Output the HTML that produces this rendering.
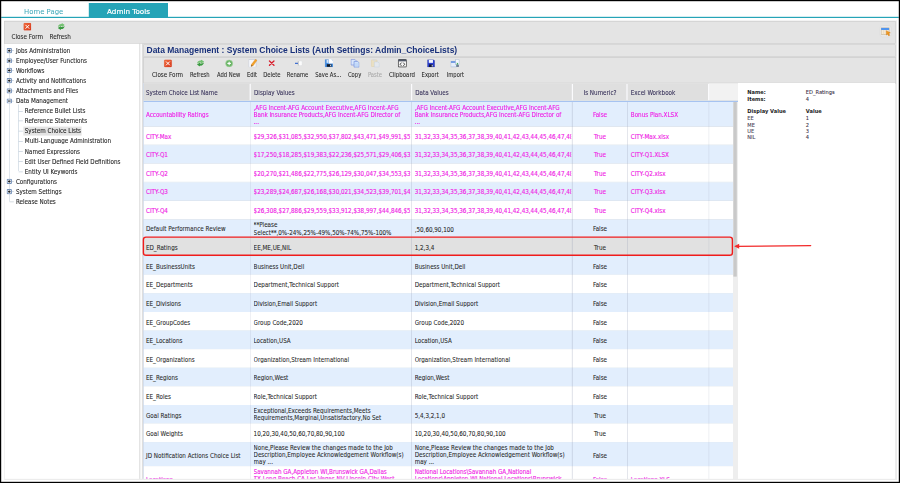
<!DOCTYPE html>
<html><head><meta charset="utf-8"><title>Admin Tools - System Choice Lists</title>
<style>
html,body{margin:0;padding:0;background:#fff;}
body{width:900px;height:483px;overflow:hidden;position:relative;}
#w{position:absolute;left:0;top:0;width:1500px;height:805px;transform:scale(0.6);transform-origin:0 0;overflow:hidden;}
#w div,#w svg{position:absolute;}
.t{font-family:"DejaVu Sans Condensed","Liberation Sans",sans-serif;font-size:10.4px;line-height:14px;white-space:nowrap;color:#2a2a2a;-webkit-text-stroke:0.12px currentColor;}
.v{font-family:"DejaVu Sans","Liberation Sans",sans-serif;line-height:14px;white-space:nowrap;}
.a{font-family:"Liberation Sans",sans-serif;line-height:14px;white-space:nowrap;}
.c{overflow:hidden;}
.m{-webkit-text-stroke:0.22px currentColor;}
</style></head><body><div id="w">
<div style="left:1.67px;top:28.33px;width:1496.0px;height:1.92px;background:#25a4b7;"></div>
<div style="left:148.33px;top:5.0px;width:131.67px;height:24.17px;background:#25a4b7;"></div>
<div class="v" style="top:11.83px;font-size:12px;left:114.17px;width:200px;text-align:center;color:#fff;-webkit-text-stroke:0.35px #fff;">Admin Tools</div>
<div class="v" style="top:11.83px;font-size:11.5px;left:40.0px;color:#3ba7b9;">Home Page</div>
<div style="left:6.67px;top:34.17px;width:1488.33px;height:765.83px;background:#ececec;"></div>
<div style="left:7.0px;top:34.5px;width:1486.33px;height:38.17px;background:#e4e4e4;border:1px solid #cbcbcb;box-sizing:border-box;"></div>
<svg class="a" style="left:39.0px;top:38.17px" width="13.33" height="13.33" viewBox="0 0 16 16"><defs><linearGradient id="g1" x1="0" y1="0" x2="1" y2="1"><stop offset="0" stop-color="#f2703f"/><stop offset="1" stop-color="#d6341a"/></linearGradient></defs><rect x="0.5" y="0.5" width="15" height="15" rx="2.2" fill="url(#g1)" stroke="#d8492c" stroke-width="0.8"/><path d="M4.800 4.800l6.400 6.400M11.200 4.800l-6.400 6.400" stroke="#fff" stroke-width="2" stroke-linecap="round"/></svg>
<svg class="a" style="left:95.5px;top:38.0px" width="12.33" height="12.33" viewBox="0 0 16 16"><path d="M0.500 9.200C1.200 4 5.500 1.800 9 2.600L9 0.200L15.600 4.800L9 9.200L9 7C6 6.400 3 7.200 0.500 9.200z" fill="#74c272"/><path d="M15.500 6.800C14.800 12 10.500 14.200 7 13.400L7 15.800L0.400 11.200L7 6.800L7 9C10 9.600 13 8.800 15.500 6.800z" fill="#3a9a40"/></svg>
<div class="t" style="top:54.0px;font-size:10.5px;left:19.17px;color:#2a2a2a;">Close Form</div>
<div class="t" style="top:54.0px;font-size:10.5px;left:82.5px;color:#2a2a2a;">Refresh</div>
<div style="left:1465.67px;top:41.83px;width:20.5px;height:20.5px;background:#e9e9e9;border-radius:5px;border:1px solid #dcdcdc;box-sizing:border-box;"></div>
<svg class="a" style="left:1467.67px;top:44.67px" width="17.42" height="16.42" viewBox="0 0 17 16"><rect x="0.5" y="1.5" width="13" height="11" fill="#f6ead6" stroke="#c4b498"/><rect x="0.5" y="1.5" width="13" height="3.4" fill="#4f94ee"/><path d="M4.500 5v7.500M8.500 5v7.500" stroke="#e2d2b6" stroke-width="0.8"/><path d="M9 6l6.5 3.4-2.6 1 1.6 3.2-1.7.9-1.6-3.2-2 1.8z" fill="#f39a1f" stroke="#c9720d" stroke-width=".6"/></svg>
<div style="left:7.67px;top:73.0px;width:224.0px;height:725.33px;background:#fff;"></div>
<div style="left:231.67px;top:73.0px;width:2.0px;height:725.33px;background:#e1e1e1;"></div>
<div style="left:233.67px;top:73.0px;width:3.0px;height:725.33px;background:#fbfbfb;"></div>
<div style="left:236.67px;top:73.0px;width:2.5px;height:725.33px;background:#dadada;"></div>
<div style="left:15.17px;top:84.0px;width:0.83px;height:252.0px;background:#ccd6e0;"></div>
<div style="left:30.33px;top:174.17px;width:0.83px;height:111.33px;background:#c4d0dc;"></div>
<div style="left:15.5px;top:335.67px;width:7.0px;height:0.83px;background:#b8c4cc;"></div>
<div style="left:19.33px;top:83.83px;width:3.67px;height:0.83px;background:#b5c3d2;"></div>
<svg class="a" style="left:11.0px;top:79.75px" width="8.83" height="8.83" viewBox="0 0 9 9"><rect x="0.9" y="0.9" width="7.200" height="7.200" rx="0.8" fill="#f0f4fa" stroke="#7591b8" stroke-width="1.8"/><path d="M2.400 4.500h4.200" stroke="#1a1a1a" stroke-width="1.600"/><path d="M4.5 2.4v4.200" stroke="#1a1a1a" stroke-width="1.6"/></svg>
<div class="t" style="top:77.0px;font-size:10.4px;left:26.5px;color:#2a2a2a;-webkit-text-stroke:0.18px currentColor;">Jobs Administration</div>
<div style="left:19.33px;top:100.67px;width:3.67px;height:0.83px;background:#b5c3d2;"></div>
<svg class="a" style="left:11.0px;top:96.58px" width="8.83" height="8.83" viewBox="0 0 9 9"><rect x="0.9" y="0.9" width="7.200" height="7.200" rx="0.8" fill="#f0f4fa" stroke="#7591b8" stroke-width="1.8"/><path d="M2.400 4.500h4.200" stroke="#1a1a1a" stroke-width="1.600"/><path d="M4.5 2.4v4.200" stroke="#1a1a1a" stroke-width="1.6"/></svg>
<div class="t" style="top:93.83px;font-size:10.4px;left:26.5px;color:#2a2a2a;-webkit-text-stroke:0.18px currentColor;">Employee/User Functions</div>
<div style="left:19.33px;top:117.33px;width:3.67px;height:0.83px;background:#b5c3d2;"></div>
<svg class="a" style="left:11.0px;top:113.25px" width="8.83" height="8.83" viewBox="0 0 9 9"><rect x="0.9" y="0.9" width="7.200" height="7.200" rx="0.8" fill="#f0f4fa" stroke="#7591b8" stroke-width="1.8"/><path d="M2.400 4.500h4.200" stroke="#1a1a1a" stroke-width="1.600"/><path d="M4.5 2.4v4.200" stroke="#1a1a1a" stroke-width="1.6"/></svg>
<div class="t" style="top:110.5px;font-size:10.4px;left:26.5px;color:#2a2a2a;-webkit-text-stroke:0.18px currentColor;">Workflows</div>
<div style="left:19.33px;top:134.17px;width:3.67px;height:0.83px;background:#b5c3d2;"></div>
<svg class="a" style="left:11.0px;top:130.08px" width="8.83" height="8.83" viewBox="0 0 9 9"><rect x="0.9" y="0.9" width="7.200" height="7.200" rx="0.8" fill="#f0f4fa" stroke="#7591b8" stroke-width="1.8"/><path d="M2.400 4.500h4.200" stroke="#1a1a1a" stroke-width="1.600"/><path d="M4.5 2.4v4.200" stroke="#1a1a1a" stroke-width="1.6"/></svg>
<div class="t" style="top:127.33px;font-size:10.4px;left:26.5px;color:#2a2a2a;-webkit-text-stroke:0.18px currentColor;">Activity and Notifications</div>
<div style="left:19.33px;top:150.83px;width:3.67px;height:0.83px;background:#b5c3d2;"></div>
<svg class="a" style="left:11.0px;top:146.75px" width="8.83" height="8.83" viewBox="0 0 9 9"><rect x="0.9" y="0.9" width="7.200" height="7.200" rx="0.8" fill="#f0f4fa" stroke="#7591b8" stroke-width="1.8"/><path d="M2.400 4.500h4.200" stroke="#1a1a1a" stroke-width="1.600"/><path d="M4.5 2.4v4.200" stroke="#1a1a1a" stroke-width="1.6"/></svg>
<div class="t" style="top:144.0px;font-size:10.4px;left:26.5px;color:#2a2a2a;-webkit-text-stroke:0.18px currentColor;">Attachments and Files</div>
<div style="left:19.33px;top:167.67px;width:3.67px;height:0.83px;background:#b5c3d2;"></div>
<svg class="a" style="left:11.0px;top:163.58px" width="8.83" height="8.83" viewBox="0 0 9 9"><rect x="0.9" y="0.9" width="7.200" height="7.200" rx="0.8" fill="#f0f4fa" stroke="#7591b8" stroke-width="1.8"/><path d="M2.400 4.500h4.200" stroke="#1a1a1a" stroke-width="1.600"/></svg>
<div class="t" style="top:160.83px;font-size:10.4px;left:26.5px;color:#2a2a2a;-webkit-text-stroke:0.18px currentColor;">Data Management</div>
<div style="left:19.33px;top:302.17px;width:3.67px;height:0.83px;background:#b5c3d2;"></div>
<svg class="a" style="left:11.0px;top:298.08px" width="8.83" height="8.83" viewBox="0 0 9 9"><rect x="0.9" y="0.9" width="7.200" height="7.200" rx="0.8" fill="#f0f4fa" stroke="#7591b8" stroke-width="1.8"/><path d="M2.400 4.500h4.200" stroke="#1a1a1a" stroke-width="1.600"/><path d="M4.5 2.4v4.200" stroke="#1a1a1a" stroke-width="1.6"/></svg>
<div class="t" style="top:295.33px;font-size:10.4px;left:26.5px;color:#2a2a2a;-webkit-text-stroke:0.18px currentColor;">Configurations</div>
<div style="left:19.33px;top:319.0px;width:3.67px;height:0.83px;background:#b5c3d2;"></div>
<svg class="a" style="left:11.0px;top:314.92px" width="8.83" height="8.83" viewBox="0 0 9 9"><rect x="0.9" y="0.9" width="7.200" height="7.200" rx="0.8" fill="#f0f4fa" stroke="#7591b8" stroke-width="1.8"/><path d="M2.400 4.500h4.200" stroke="#1a1a1a" stroke-width="1.600"/><path d="M4.5 2.4v4.200" stroke="#1a1a1a" stroke-width="1.6"/></svg>
<div class="t" style="top:312.17px;font-size:10.4px;left:26.5px;color:#2a2a2a;-webkit-text-stroke:0.18px currentColor;">System Settings</div>
<div class="t" style="top:329.0px;font-size:10.4px;left:26.5px;color:#2a2a2a;-webkit-text-stroke:0.18px currentColor;">Release Notes</div>
<div style="left:39.0px;top:211.0px;width:97.0px;height:14.83px;background:#e3e3e3;"></div>
<div style="left:30.83px;top:184.5px;width:6.83px;height:0.83px;background:#b9c7d6;"></div>
<div class="t" style="top:177.5px;font-size:10.4px;left:41.33px;color:#2a2a2a;-webkit-text-stroke:0.18px currentColor;">Reference Bullet Lists</div>
<div style="left:30.83px;top:201.33px;width:6.83px;height:0.83px;background:#b9c7d6;"></div>
<div class="t" style="top:194.33px;font-size:10.4px;left:41.33px;color:#2a2a2a;-webkit-text-stroke:0.18px currentColor;">Reference Statements</div>
<div style="left:30.83px;top:218.17px;width:6.83px;height:0.83px;background:#b9c7d6;"></div>
<div class="t" style="top:211.17px;font-size:10.4px;left:41.33px;color:#2a2a2a;-webkit-text-stroke:0.18px currentColor;">System Choice Lists</div>
<div style="left:30.83px;top:235.0px;width:6.83px;height:0.83px;background:#b9c7d6;"></div>
<div class="t" style="top:228.0px;font-size:10.4px;left:41.33px;color:#2a2a2a;-webkit-text-stroke:0.18px currentColor;">Multi-Language Administration</div>
<div style="left:30.83px;top:251.67px;width:6.83px;height:0.83px;background:#b9c7d6;"></div>
<div class="t" style="top:244.67px;font-size:10.4px;left:41.33px;color:#2a2a2a;-webkit-text-stroke:0.18px currentColor;">Named Expressions</div>
<div style="left:30.83px;top:268.67px;width:6.83px;height:0.83px;background:#b9c7d6;"></div>
<div class="t" style="top:261.67px;font-size:10.4px;left:41.33px;color:#2a2a2a;-webkit-text-stroke:0.18px currentColor;">Edit User Defined Field Definitions</div>
<div style="left:30.83px;top:285.5px;width:6.83px;height:0.83px;background:#b9c7d6;"></div>
<div class="t" style="top:278.5px;font-size:10.4px;left:41.33px;color:#2a2a2a;-webkit-text-stroke:0.18px currentColor;">Entity UI Keywords</div>
<div style="left:238.67px;top:74.0px;width:1254.67px;height:21.0px;background:#e5e5e5;border:1px solid #cdcdcd;box-sizing:border-box;"></div>
<div class="a" style="top:77.33px;font-size:14.17px;left:244.17px;color:#18307a;font-weight:bold;">Data Management : System Choice Lists (Auth Settings: Admin_ChoiceLists)</div>
<div style="left:238.67px;top:95.0px;width:1254.67px;height:43.5px;background:#e4e4e4;border:1px solid #c9c9c9;border-bottom:1.5px solid #c6c6c6;box-sizing:border-box;"></div>
<div class="t" style="top:117.0px;font-size:10.4px;left:219.17px;width:120px;text-align:center;color:#2a2a2a;transform:scaleX(1.0);">Close Form</div>
<div class="t" style="top:117.0px;font-size:10.4px;left:273.33px;width:120px;text-align:center;color:#2a2a2a;transform:scaleX(0.935);">Refresh</div>
<div class="t" style="top:117.0px;font-size:10.4px;left:321.17px;width:120px;text-align:center;color:#2a2a2a;transform:scaleX(0.935);">Add New</div>
<div class="t" style="top:117.0px;font-size:10.4px;left:359.83px;width:120px;text-align:center;color:#2a2a2a;transform:scaleX(0.935);">Edit</div>
<div class="t" style="top:117.0px;font-size:10.4px;left:393.33px;width:120px;text-align:center;color:#2a2a2a;transform:scaleX(0.935);">Delete</div>
<div class="t" style="top:117.0px;font-size:10.4px;left:436.17px;width:120px;text-align:center;color:#2a2a2a;transform:scaleX(0.935);">Rename</div>
<div class="t" style="top:117.0px;font-size:10.4px;left:487.33px;width:120px;text-align:center;color:#2a2a2a;transform:scaleX(0.935);">Save As...</div>
<div class="t" style="top:117.0px;font-size:10.4px;left:531.17px;width:120px;text-align:center;color:#2a2a2a;transform:scaleX(0.935);">Copy</div>
<div class="t" style="top:117.0px;font-size:10.4px;left:564.83px;width:120px;text-align:center;color:#a9a9a9;transform:scaleX(0.935);">Paste</div>
<div class="t" style="top:117.0px;font-size:10.4px;left:610.33px;width:120px;text-align:center;color:#2a2a2a;transform:scaleX(0.97);">Clipboard</div>
<div class="t" style="top:117.0px;font-size:10.4px;left:656.83px;width:120px;text-align:center;color:#2a2a2a;transform:scaleX(0.935);">Export</div>
<div class="t" style="top:117.0px;font-size:10.4px;left:698.5px;width:120px;text-align:center;color:#2a2a2a;transform:scaleX(0.935);">Import</div>
<svg class="a" style="left:272.83px;top:98.83px" width="13.83" height="13.33" viewBox="0 0 16 16"><defs><linearGradient id="g2" x1="0" y1="0" x2="1" y2="1"><stop offset="0" stop-color="#f2703f"/><stop offset="1" stop-color="#d6341a"/></linearGradient></defs><rect x="0.5" y="0.5" width="15" height="15" rx="2.2" fill="url(#g2)" stroke="#d8492c" stroke-width="0.8"/><path d="M4.800 4.800l6.400 6.400M11.200 4.800l-6.400 6.400" stroke="#fff" stroke-width="2" stroke-linecap="round"/></svg>
<svg class="a" style="left:327.67px;top:99.17px" width="12.33" height="12.33" viewBox="0 0 16 16"><path d="M0.500 9.200C1.200 4 5.500 1.800 9 2.600L9 0.200L15.600 4.800L9 9.200L9 7C6 6.400 3 7.200 0.500 9.200z" fill="#74c272"/><path d="M15.500 6.800C14.800 12 10.500 14.200 7 13.400L7 15.800L0.400 11.200L7 6.800L7 9C10 9.600 13 8.800 15.500 6.800z" fill="#3a9a40"/></svg>
<svg class="a" style="left:375.0px;top:98.83px" width="13.83" height="13.33" viewBox="0 0 16 16"><circle cx="8" cy="8" r="7" fill="#68b365" stroke="#a3d39e" stroke-width="1.4"/><path d="M8 5.400v5.200M5.400 8h5.200" stroke="#fff" stroke-width="2.2" stroke-linecap="round"/></svg>
<svg class="a" style="left:413.67px;top:97.5px" width="15.0" height="14.5" viewBox="0 0 18 17"><rect x="0.8" y="1.5" width="14.500" height="15" fill="#f6f7fb" stroke="#c3c9d6" stroke-width="1.2"/><path d="M5.500 15l0.700-4.200L14 0.600l3.400 2.300L9.500 13.600z" fill="#f2a12a" stroke="#d58118" stroke-width=".6"/><path d="M5.500 15l0.500-3 2.400 1.500z" fill="#5a4a3a"/></svg>
<svg class="a" style="left:447.17px;top:100.0px" width="11.67" height="10.33" viewBox="0 0 14 12"><path d="M2.500 1.800l9 8.400M11.500 1.800l-9 8.400" stroke="#d81e2c" stroke-width="2.700" stroke-linecap="round"/></svg>
<svg class="a" style="left:490.5px;top:101.33px" width="13.67" height="9.0" viewBox="0 0 16 11"><path d="M0.500 5.500h6" stroke="#3f6fd2" stroke-width="2.700"/><path d="M7.300 1.500v8" stroke="#7a8088" stroke-width="1.300"/><rect x="8" y="0.800" width="7" height="9.400" rx="2.200" fill="#fcfcfc" stroke="#dadfe6" stroke-width="0.8"/></svg>
<svg class="a" style="left:540.5px;top:98.17px" width="14.67" height="14.0" viewBox="0 0 17 16"><path d="M1 1.500h12.500l2.500 2.500v11.500H1z" fill="#438de2" stroke="#3a7fd0" stroke-width="0.8"/><rect x="3.800" y="1.800" width="3.500" height="6" fill="#d6e6fa"/><path d="M8 0.300h5l3.300 3.300v5.400H8z" fill="#fdfeff" stroke="#c9d9f0" stroke-width="0.5"/><rect x="4.300" y="10.300" width="9" height="5" fill="#141a24"/><rect x="10.500" y="11.300" width="1.800" height="3" fill="#cfd8e6"/></svg>
<svg class="a" style="left:583.83px;top:98.17px" width="15.67" height="14.67" viewBox="0 0 18 17"><path d="M1.200 1.200h7.300l2.500 2.500v8.300h-9.800z" fill="#d9e6fb" stroke="#7f93dc" stroke-width="1.300"/><path d="M7 5h7l2.800 2.800v8.400h-9.800z" fill="#cfe2fc" stroke="#6f8ddb" stroke-width="1.300"/><path d="M9 9.500h5.500M9 11.500h5.500M9 13.500h5.500" stroke="#a9c6f3" stroke-width=".8"/></svg>
<svg class="a" style="left:617.83px;top:98.17px" width="15.33" height="14.67" viewBox="0 0 18 17"><g opacity=".45"><rect x="1" y="2" width="11" height="13" rx="1" fill="#f3dc9b" stroke="#d5b869"/><rect x="4" y="0.8" width="5" height="3" fill="#c8ccd2"/><path d="M7 6h7l2.500 2.500v7.500h-9.500z" fill="#e4eefb" stroke="#9db9dc"/></g></svg>
<svg class="a" style="left:662.83px;top:98.17px" width="15.33" height="14.83" viewBox="0 0 18 17"><rect x="1" y="1" width="16" height="15" rx="2.200" fill="#f4f4f4" stroke="#585858" stroke-width="2"/><rect x="1" y="1" width="16" height="3.800" fill="#505868"/><path d="M7.200 7.300l-2.700 3.200 2.700 3.200M10.800 7.300l2.700 3.200-2.700 3.200" stroke="#2a2a2a" stroke-width="1.600" fill="none"/></svg>
<svg class="a" style="left:712.17px;top:98.83px" width="12.67" height="13.17" viewBox="0 0 15 16"><path d="M0.5 0.5h12l2 2v13h-14z" fill="#2b3fd0" stroke="#1e2da0"/><rect x="3" y="1" width="8.500" height="6" fill="#f2f5ff"/><rect x="3.500" y="10" width="8" height="5.500" fill="#11163a"/><rect x="9" y="11" width="2" height="3.500" fill="#e4e8f8"/></svg>
<svg class="a" style="left:751.17px;top:98.83px" width="14.67" height="14.0" viewBox="0 0 17 16"><rect x="0.5" y="3.500" width="11" height="11" fill="#e6eefb" stroke="#8fa9cf"/><rect x="0.5" y="3.500" width="11" height="3" fill="#5c8fe0"/><rect x="9.500" y="0.5" width="7" height="9" fill="#f4f8ff" stroke="#8fa9cf"/><path d="M12 6l3 2.500-3 2.500z" fill="#2f9e44"/><rect x="11" y="10.5" width="5" height="4" fill="#6b7c93"/></svg>
<div style="left:238.67px;top:138.5px;width:991.33px;height:659.83px;background:#ececec;"></div>
<div style="left:238.67px;top:138.83px;width:178.83px;height:28.33px;background:#dcdcdc;"></div>
<div style="left:417.5px;top:138.83px;width:763.83px;height:28.33px;background:#dfdfdf;"></div>
<div style="left:1181.33px;top:138.83px;width:48.67px;height:28.33px;background:#f2f2f2;"></div>
<div style="left:416.33px;top:139.67px;width:2.0px;height:28.67px;background:#fbfbfd;"></div>
<div style="left:684.83px;top:139.67px;width:2.0px;height:28.67px;background:#fbfbfd;"></div>
<div style="left:953.0px;top:139.67px;width:2.0px;height:28.67px;background:#fbfbfd;"></div>
<div style="left:1044.33px;top:139.67px;width:2.0px;height:28.67px;background:#fbfbfd;"></div>
<div style="left:1180.33px;top:139.67px;width:2.0px;height:28.67px;background:#fbfbfd;"></div>
<div style="left:238.67px;top:167.0px;width:991.33px;height:1.33px;background:#efebe0;"></div>
<div style="left:238.67px;top:168.17px;width:991.33px;height:1.83px;background:#a6c3f1;"></div>
<div class="t" style="top:147.83px;font-size:10.4px;left:243.33px;color:#352f58;">System Choice List Name</div>
<div class="t" style="top:147.83px;font-size:10.4px;left:423.33px;color:#352f58;">Display Values</div>
<div class="t" style="top:147.83px;font-size:10.4px;left:692.0px;color:#352f58;">Data Values</div>
<div class="t" style="top:147.83px;font-size:10.4px;left:940.0px;width:120px;text-align:center;color:#352f58;">Is Numeric?</div>
<div class="t" style="top:147.83px;font-size:10.4px;left:1051.33px;color:#352f58;">Excel Workbook</div>
<div style="left:239.17px;top:170.0px;width:982.5px;height:40.67px;background:#e2eefd;"></div>
<div class="t m" style="top:183.67px;font-size:10.4px;left:243.33px;color:#f01ee6;">Accountability Ratings</div>
<div class="t c m" style="left:422.67px;top:172.83px;width:261.5px;height:36.0px;line-height:12.0px;color:#f01ee6;"><div style="position:static">,AFG Incent-AFG Account Executive,AFG Incent-AFG</div><div style="position:static">Bank Insurance Products,AFG Incent-AFG Director of</div><div style="position:static">...</div></div>
<div class="t c m" style="left:691.17px;top:172.83px;width:261.17px;height:36.0px;line-height:12.0px;color:#f01ee6;"><div style="position:static">,AFG Incent-AFG Account Executive,AFG Incent-AFG</div><div style="position:static">Bank Insurance Products,AFG Incent-AFG Director of</div><div style="position:static">...</div></div>
<div class="t m" style="top:183.67px;font-size:10.4px;left:960.0px;width:80px;text-align:center;color:#f01ee6;">False</div>
<div class="t m" style="top:183.67px;font-size:10.4px;left:1051.33px;color:#f01ee6;">Bonus Plan.XLSX</div>
<div style="left:239.17px;top:210.17px;width:982.5px;height:1.0px;background:#dde3ec;"></div>
<div style="left:239.17px;top:210.67px;width:982.5px;height:30.97px;background:#fff;"></div>
<div class="t m" style="top:220.23px;font-size:10.4px;left:243.33px;color:#f01ee6;">CITY-Max</div>
<div class="t c m" style="left:422.67px;top:221.23px;width:261.5px;height:12.0px;line-height:12.0px;color:#f01ee6;"><div style="position:static">$29,326,$31,085,$32,950,$37,802,$43,471,$49,991,$57,490</div></div>
<div class="t c m" style="left:691.17px;top:221.23px;width:261.17px;height:12.0px;line-height:12.0px;color:#f01ee6;"><div style="position:static">31,32,33,34,35,36,37,38,39,40,41,42,43,44,45,46,47,48,49,50</div></div>
<div class="t m" style="top:220.23px;font-size:10.4px;left:960.0px;width:80px;text-align:center;color:#f01ee6;">True</div>
<div class="t m" style="top:220.23px;font-size:10.4px;left:1051.33px;color:#f01ee6;">CITY-Max.xlsx</div>
<div style="left:239.17px;top:241.13px;width:982.5px;height:1.0px;background:#dde3ec;"></div>
<div style="left:239.17px;top:241.63px;width:982.5px;height:30.97px;background:#e2eefd;"></div>
<div class="t m" style="top:251.2px;font-size:10.4px;left:243.33px;color:#f01ee6;">CITY-Q1</div>
<div class="t c m" style="left:422.67px;top:252.2px;width:261.5px;height:12.0px;line-height:12.0px;color:#f01ee6;"><div style="position:static">$17,250,$18,285,$19,383,$22,236,$25,571,$29,406,$33,817</div></div>
<div class="t c m" style="left:691.17px;top:252.2px;width:261.17px;height:12.0px;line-height:12.0px;color:#f01ee6;"><div style="position:static">31,32,33,34,35,36,37,38,39,40,41,42,43,44,45,46,47,48,49,50</div></div>
<div class="t m" style="top:251.2px;font-size:10.4px;left:960.0px;width:80px;text-align:center;color:#f01ee6;">True</div>
<div class="t m" style="top:251.2px;font-size:10.4px;left:1051.33px;color:#f01ee6;">CITY-Q1.XLSX</div>
<div style="left:239.17px;top:272.1px;width:982.5px;height:1.0px;background:#dde3ec;"></div>
<div style="left:239.17px;top:272.6px;width:982.5px;height:30.97px;background:#fff;"></div>
<div class="t m" style="top:282.17px;font-size:10.4px;left:243.33px;color:#f01ee6;">CITY-Q2</div>
<div class="t c m" style="left:422.67px;top:283.17px;width:261.5px;height:12.0px;line-height:12.0px;color:#f01ee6;"><div style="position:static">$20,270,$21,486,$22,775,$26,129,$30,047,$34,553,$39,736</div></div>
<div class="t c m" style="left:691.17px;top:283.17px;width:261.17px;height:12.0px;line-height:12.0px;color:#f01ee6;"><div style="position:static">31,32,33,34,35,36,37,38,39,40,41,42,43,44,45,46,47,48,49,50</div></div>
<div class="t m" style="top:282.17px;font-size:10.4px;left:960.0px;width:80px;text-align:center;color:#f01ee6;">True</div>
<div class="t m" style="top:282.17px;font-size:10.4px;left:1051.33px;color:#f01ee6;">CITY-Q2.xlsx</div>
<div style="left:239.17px;top:303.07px;width:982.5px;height:1.0px;background:#dde3ec;"></div>
<div style="left:239.17px;top:303.57px;width:982.5px;height:30.97px;background:#e2eefd;"></div>
<div class="t m" style="top:313.13px;font-size:10.4px;left:243.33px;color:#f01ee6;">CITY-Q3</div>
<div class="t c m" style="left:422.67px;top:314.13px;width:261.5px;height:12.0px;line-height:12.0px;color:#f01ee6;"><div style="position:static">$23,289,$24,687,$26,168,$30,021,$34,523,$39,701,$45,656</div></div>
<div class="t c m" style="left:691.17px;top:314.13px;width:261.17px;height:12.0px;line-height:12.0px;color:#f01ee6;"><div style="position:static">31,32,33,34,35,36,37,38,39,40,41,42,43,44,45,46,47,48,49,50</div></div>
<div class="t m" style="top:313.13px;font-size:10.4px;left:960.0px;width:80px;text-align:center;color:#f01ee6;">True</div>
<div class="t m" style="top:313.13px;font-size:10.4px;left:1051.33px;color:#f01ee6;">CITY-Q3.xlsx</div>
<div style="left:239.17px;top:334.03px;width:982.5px;height:1.0px;background:#dde3ec;"></div>
<div style="left:239.17px;top:334.53px;width:982.5px;height:30.97px;background:#fff;"></div>
<div class="t m" style="top:344.1px;font-size:10.4px;left:243.33px;color:#f01ee6;">CITY-Q4</div>
<div class="t c m" style="left:422.67px;top:345.1px;width:261.5px;height:12.0px;line-height:12.0px;color:#f01ee6;"><div style="position:static">$26,308,$27,886,$29,559,$33,912,$38,997,$44,846,$51,573</div></div>
<div class="t c m" style="left:691.17px;top:345.1px;width:261.17px;height:12.0px;line-height:12.0px;color:#f01ee6;"><div style="position:static">31,32,33,34,35,36,37,38,39,40,41,42,43,44,45,46,47,48,49,50</div></div>
<div class="t m" style="top:344.1px;font-size:10.4px;left:960.0px;width:80px;text-align:center;color:#f01ee6;">True</div>
<div class="t m" style="top:344.1px;font-size:10.4px;left:1051.33px;color:#f01ee6;">CITY-Q4.xlsx</div>
<div style="left:239.17px;top:365.0px;width:982.5px;height:1.0px;background:#dde3ec;"></div>
<div style="left:239.17px;top:365.5px;width:982.5px;height:30.97px;background:#e2eefd;"></div>
<div class="t" style="top:374.23px;font-size:10.4px;left:243.33px;color:#2a2a2a;">Default Performance Review</div>
<div class="t c" style="left:422.67px;top:368.82px;width:261.5px;height:24.0px;line-height:12.0px;color:#2a2a2a;"><div style="position:static">**Please</div><div style="position:static">Select**,0%-24%,25%-49%,50%-74%,75%-100%</div></div>
<div class="t c" style="left:691.17px;top:376.07px;width:261.17px;height:12.0px;line-height:12.0px;color:#2a2a2a;"><div style="position:static">,50,60,90,100</div></div>
<div class="t" style="top:374.23px;font-size:10.4px;left:960.0px;width:80px;text-align:center;color:#2a2a2a;">False</div>
<div style="left:239.17px;top:395.97px;width:982.5px;height:1.0px;background:#dde3ec;"></div>
<div style="left:239.17px;top:396.47px;width:982.5px;height:30.97px;background:#e1e1e1;"></div>
<div class="t" style="top:406.03px;font-size:10.4px;left:243.33px;color:#2a2a2a;">ED_Ratings</div>
<div class="t c" style="left:422.67px;top:407.03px;width:261.5px;height:12.0px;line-height:12.0px;color:#2a2a2a;"><div style="position:static">EE,ME,UE,NIL</div></div>
<div class="t c" style="left:691.17px;top:407.03px;width:261.17px;height:12.0px;line-height:12.0px;color:#2a2a2a;"><div style="position:static">1,2,3,4</div></div>
<div class="t" style="top:406.03px;font-size:10.4px;left:960.0px;width:80px;text-align:center;color:#2a2a2a;">True</div>
<div style="left:239.17px;top:426.93px;width:982.5px;height:1.0px;background:#dde3ec;"></div>
<div style="left:239.17px;top:427.43px;width:982.5px;height:30.97px;background:#e2eefd;"></div>
<div class="t" style="top:437.0px;font-size:10.4px;left:243.33px;color:#2a2a2a;">EE_BusinessUnits</div>
<div class="t c" style="left:422.67px;top:438.0px;width:261.5px;height:12.0px;line-height:12.0px;color:#2a2a2a;"><div style="position:static">Business Unit,Dell</div></div>
<div class="t c" style="left:691.17px;top:438.0px;width:261.17px;height:12.0px;line-height:12.0px;color:#2a2a2a;"><div style="position:static">Business Unit,Dell</div></div>
<div class="t" style="top:437.0px;font-size:10.4px;left:960.0px;width:80px;text-align:center;color:#2a2a2a;">False</div>
<div style="left:239.17px;top:457.9px;width:982.5px;height:1.0px;background:#dde3ec;"></div>
<div style="left:239.17px;top:458.4px;width:982.5px;height:30.97px;background:#fff;"></div>
<div class="t" style="top:467.97px;font-size:10.4px;left:243.33px;color:#2a2a2a;">EE_Departments</div>
<div class="t c" style="left:422.67px;top:468.97px;width:261.5px;height:12.0px;line-height:12.0px;color:#2a2a2a;"><div style="position:static">Department,Technical Support</div></div>
<div class="t c" style="left:691.17px;top:468.97px;width:261.17px;height:12.0px;line-height:12.0px;color:#2a2a2a;"><div style="position:static">Department,Technical Support</div></div>
<div class="t" style="top:467.97px;font-size:10.4px;left:960.0px;width:80px;text-align:center;color:#2a2a2a;">False</div>
<div style="left:239.17px;top:488.87px;width:982.5px;height:1.0px;background:#dde3ec;"></div>
<div style="left:239.17px;top:489.37px;width:982.5px;height:30.97px;background:#e2eefd;"></div>
<div class="t" style="top:498.93px;font-size:10.4px;left:243.33px;color:#2a2a2a;">EE_Divisions</div>
<div class="t c" style="left:422.67px;top:499.93px;width:261.5px;height:12.0px;line-height:12.0px;color:#2a2a2a;"><div style="position:static">Division,Email Support</div></div>
<div class="t c" style="left:691.17px;top:499.93px;width:261.17px;height:12.0px;line-height:12.0px;color:#2a2a2a;"><div style="position:static">Division,Email Support</div></div>
<div class="t" style="top:498.93px;font-size:10.4px;left:960.0px;width:80px;text-align:center;color:#2a2a2a;">False</div>
<div style="left:239.17px;top:519.83px;width:982.5px;height:1.0px;background:#dde3ec;"></div>
<div style="left:239.17px;top:520.33px;width:982.5px;height:30.97px;background:#fff;"></div>
<div class="t" style="top:529.9px;font-size:10.4px;left:243.33px;color:#2a2a2a;">EE_GroupCodes</div>
<div class="t c" style="left:422.67px;top:530.9px;width:261.5px;height:12.0px;line-height:12.0px;color:#2a2a2a;"><div style="position:static">Group Code,2020</div></div>
<div class="t c" style="left:691.17px;top:530.9px;width:261.17px;height:12.0px;line-height:12.0px;color:#2a2a2a;"><div style="position:static">Group Code,2020</div></div>
<div class="t" style="top:529.9px;font-size:10.4px;left:960.0px;width:80px;text-align:center;color:#2a2a2a;">False</div>
<div style="left:239.17px;top:550.8px;width:982.5px;height:1.0px;background:#dde3ec;"></div>
<div style="left:239.17px;top:551.3px;width:982.5px;height:30.97px;background:#e2eefd;"></div>
<div class="t" style="top:560.87px;font-size:10.4px;left:243.33px;color:#2a2a2a;">EE_Locations</div>
<div class="t c" style="left:422.67px;top:561.87px;width:261.5px;height:12.0px;line-height:12.0px;color:#2a2a2a;"><div style="position:static">Location,USA</div></div>
<div class="t c" style="left:691.17px;top:561.87px;width:261.17px;height:12.0px;line-height:12.0px;color:#2a2a2a;"><div style="position:static">Location,USA</div></div>
<div class="t" style="top:560.87px;font-size:10.4px;left:960.0px;width:80px;text-align:center;color:#2a2a2a;">False</div>
<div style="left:239.17px;top:581.77px;width:982.5px;height:1.0px;background:#dde3ec;"></div>
<div style="left:239.17px;top:582.27px;width:982.5px;height:30.97px;background:#fff;"></div>
<div class="t" style="top:591.83px;font-size:10.4px;left:243.33px;color:#2a2a2a;">EE_Organizations</div>
<div class="t c" style="left:422.67px;top:592.83px;width:261.5px;height:12.0px;line-height:12.0px;color:#2a2a2a;"><div style="position:static">Organization,Stream International</div></div>
<div class="t c" style="left:691.17px;top:592.83px;width:261.17px;height:12.0px;line-height:12.0px;color:#2a2a2a;"><div style="position:static">Organization,Stream International</div></div>
<div class="t" style="top:591.83px;font-size:10.4px;left:960.0px;width:80px;text-align:center;color:#2a2a2a;">False</div>
<div style="left:239.17px;top:612.73px;width:982.5px;height:1.0px;background:#dde3ec;"></div>
<div style="left:239.17px;top:613.23px;width:982.5px;height:30.97px;background:#e2eefd;"></div>
<div class="t" style="top:622.8px;font-size:10.4px;left:243.33px;color:#2a2a2a;">EE_Regions</div>
<div class="t c" style="left:422.67px;top:623.8px;width:261.5px;height:12.0px;line-height:12.0px;color:#2a2a2a;"><div style="position:static">Region,West</div></div>
<div class="t c" style="left:691.17px;top:623.8px;width:261.17px;height:12.0px;line-height:12.0px;color:#2a2a2a;"><div style="position:static">Region,West</div></div>
<div class="t" style="top:622.8px;font-size:10.4px;left:960.0px;width:80px;text-align:center;color:#2a2a2a;">False</div>
<div style="left:239.17px;top:643.7px;width:982.5px;height:1.0px;background:#dde3ec;"></div>
<div style="left:239.17px;top:644.2px;width:982.5px;height:30.97px;background:#fff;"></div>
<div class="t" style="top:653.77px;font-size:10.4px;left:243.33px;color:#2a2a2a;">EE_Roles</div>
<div class="t c" style="left:422.67px;top:654.77px;width:261.5px;height:12.0px;line-height:12.0px;color:#2a2a2a;"><div style="position:static">Role,Technical Support</div></div>
<div class="t c" style="left:691.17px;top:654.77px;width:261.17px;height:12.0px;line-height:12.0px;color:#2a2a2a;"><div style="position:static">Role,Technical Support</div></div>
<div class="t" style="top:653.77px;font-size:10.4px;left:960.0px;width:80px;text-align:center;color:#2a2a2a;">False</div>
<div style="left:239.17px;top:674.67px;width:982.5px;height:1.0px;background:#dde3ec;"></div>
<div style="left:239.17px;top:675.17px;width:982.5px;height:30.97px;background:#e2eefd;"></div>
<div class="t" style="top:684.73px;font-size:10.4px;left:243.33px;color:#2a2a2a;">Goal Ratings</div>
<div class="t c" style="left:422.67px;top:678.48px;width:261.5px;height:24.0px;line-height:12.0px;color:#2a2a2a;"><div style="position:static">Exceptional,Exceeds Requirements,Meets</div><div style="position:static">Requirements,Marginal,Unsatisfactory,No Set</div></div>
<div class="t c" style="left:691.17px;top:685.73px;width:261.17px;height:12.0px;line-height:12.0px;color:#2a2a2a;"><div style="position:static">5,4,3,2,1,0</div></div>
<div class="t" style="top:684.73px;font-size:10.4px;left:960.0px;width:80px;text-align:center;color:#2a2a2a;">True</div>
<div style="left:239.17px;top:705.63px;width:982.5px;height:1.0px;background:#dde3ec;"></div>
<div style="left:239.17px;top:706.13px;width:982.5px;height:30.97px;background:#fff;"></div>
<div class="t" style="top:715.7px;font-size:10.4px;left:243.33px;color:#2a2a2a;">Goal Weights</div>
<div class="t c" style="left:422.67px;top:716.7px;width:261.5px;height:12.0px;line-height:12.0px;color:#2a2a2a;"><div style="position:static">10,20,30,40,50,60,70,80,90,100</div></div>
<div class="t c" style="left:691.17px;top:716.7px;width:261.17px;height:12.0px;line-height:12.0px;color:#2a2a2a;"><div style="position:static">10,20,30,40,50,60,70,80,90,100</div></div>
<div class="t" style="top:715.7px;font-size:10.4px;left:960.0px;width:80px;text-align:center;color:#2a2a2a;">True</div>
<div style="left:239.17px;top:736.6px;width:982.5px;height:1.0px;background:#dde3ec;"></div>
<div style="left:239.17px;top:737.1px;width:982.5px;height:40.0px;background:#e2eefd;"></div>
<div class="t" style="top:752.1px;font-size:10.4px;left:243.33px;color:#2a2a2a;">JD Notification Actions Choice List</div>
<div class="t c" style="left:422.67px;top:739.6px;width:261.5px;height:36.0px;line-height:12.0px;color:#2a2a2a;"><div style="position:static">None,Please Review the changes made to the Job</div><div style="position:static">Description,Employee Acknowledgement Workflow(s)</div><div style="position:static">may ...</div></div>
<div class="t c" style="left:691.17px;top:739.6px;width:261.17px;height:36.0px;line-height:12.0px;color:#2a2a2a;"><div style="position:static">None,Please Review the changes made to the Job</div><div style="position:static">Description,Employee Acknowledgement Workflow(s)</div><div style="position:static">may ...</div></div>
<div class="t" style="top:752.1px;font-size:10.4px;left:960.0px;width:80px;text-align:center;color:#2a2a2a;">False</div>
<div style="left:239.17px;top:776.6px;width:982.5px;height:1.0px;background:#dde3ec;"></div>
<div style="left:239.17px;top:777.1px;width:982.5px;height:20.9px;background:#fff;"></div>
<div style="left:239.17px;top:777.1px;width:982.5px;height:20.9px;overflow:hidden;"><div style="left:-239.17px;top:-777.1px;width:1500px;height:805px;">
<div class="t m" style="top:792.77px;font-size:10.4px;left:243.33px;color:#f01ee6;">Locations</div>
<div class="t c m" style="left:422.67px;top:780.27px;width:261.5px;height:36.0px;line-height:12.0px;color:#f01ee6;"><div style="position:static">Savannah GA,Appleton WI,Brunswick GA,Dallas</div><div style="position:static">TX,Long Beach CA,Las Vegas NV,Lincoln City,West</div><div style="position:static">...</div></div>
<div class="t c m" style="left:691.17px;top:780.27px;width:261.17px;height:36.0px;line-height:12.0px;color:#f01ee6;"><div style="position:static">National Locations\Savannah GA,National</div><div style="position:static">Locations\Appleton WI,National Locations\Brunswick</div><div style="position:static">...</div></div>
<div class="t m" style="top:792.77px;font-size:10.4px;left:960.0px;width:80px;text-align:center;color:#f01ee6;">False</div>
<div class="t m" style="top:792.77px;font-size:10.4px;left:1051.33px;color:#f01ee6;">Locations.XLS</div>
</div></div>
<div style="left:416.58px;top:170.0px;width:1.5px;height:628.0px;background:rgba(150,160,180,0.26);"></div>
<div style="left:685.08px;top:170.0px;width:1.5px;height:628.0px;background:rgba(150,160,180,0.26);"></div>
<div style="left:953.25px;top:170.0px;width:1.5px;height:628.0px;background:rgba(150,160,180,0.26);"></div>
<div style="left:1044.58px;top:170.0px;width:1.5px;height:628.0px;background:rgba(150,160,180,0.26);"></div>
<div style="left:1180.58px;top:170.0px;width:1.5px;height:628.0px;background:rgba(150,160,180,0.26);"></div>
<div style="left:238.67px;top:138.83px;width:1.0px;height:659.17px;background:#c9d6ea;"></div>
<div style="left:1221.67px;top:170.0px;width:8.33px;height:628.0px;background:#eeeeee;"></div>
<div style="left:1221.67px;top:170.33px;width:6.5px;height:290.67px;background:#c9c9c9;"></div>
<div style="left:1230.0px;top:138.33px;width:262.0px;height:660.0px;background:#fff;"></div>
<div class="v" style="top:146.67px;font-size:8.5px;left:1245.5px;color:#222;font-weight:bold;">Name:</div>
<div class="v" style="top:158.0px;font-size:8.5px;left:1245.5px;color:#222;font-weight:bold;">Items:</div>
<div class="v" style="top:146.67px;font-size:8.5px;left:1343.0px;color:#3a3045;-webkit-text-stroke:0.15px currentColor;">ED_Ratings</div>
<div class="v" style="top:158.0px;font-size:8.5px;left:1343.0px;color:#3a3045;-webkit-text-stroke:0.15px currentColor;">4</div>
<div class="v" style="top:178.67px;font-size:8.5px;left:1245.5px;color:#222;font-weight:bold;">Display Value</div>
<div class="v" style="top:178.67px;font-size:8.5px;left:1343.0px;color:#222;font-weight:bold;">Value</div>
<div class="v" style="top:190.0px;font-size:8.5px;left:1245.5px;color:#4a3f55;-webkit-text-stroke:0.15px currentColor;">EE</div>
<div class="v" style="top:190.0px;font-size:8.5px;left:1343.0px;color:#3a3045;-webkit-text-stroke:0.15px currentColor;">1</div>
<div class="v" style="top:200.5px;font-size:8.5px;left:1245.5px;color:#4a3f55;-webkit-text-stroke:0.15px currentColor;">ME</div>
<div class="v" style="top:200.5px;font-size:8.5px;left:1343.0px;color:#3a3045;-webkit-text-stroke:0.15px currentColor;">2</div>
<div class="v" style="top:211.0px;font-size:8.5px;left:1245.5px;color:#4a3f55;-webkit-text-stroke:0.15px currentColor;">UE</div>
<div class="v" style="top:211.0px;font-size:8.5px;left:1343.0px;color:#3a3045;-webkit-text-stroke:0.15px currentColor;">3</div>
<div class="v" style="top:221.5px;font-size:8.5px;left:1245.5px;color:#4a3f55;-webkit-text-stroke:0.15px currentColor;">NIL</div>
<div class="v" style="top:221.5px;font-size:8.5px;left:1343.0px;color:#3a3045;-webkit-text-stroke:0.15px currentColor;">4</div>
<div style="left:0.0px;top:0.0px;width:1500.0px;height:1.67px;background:#000;"></div>
<div style="left:0.0px;top:0.0px;width:1.67px;height:805.0px;background:#000;"></div>
<div style="left:1497.5px;top:0.0px;width:2.5px;height:805.0px;background:#000;"></div>
<div style="left:0.0px;top:802.5px;width:1500.0px;height:2.5px;background:#000;"></div>
</div>
<svg style="position:absolute;left:0;top:0" width="900" height="483" viewBox="0 0 900 483">
<rect x="143.4" y="237.1" width="589" height="18.2" rx="2.6" fill="none" stroke="#f01c1c" stroke-width="1.4"/>
<path d="M736 246.3L810.7 245.6" stroke="#f22a2a" stroke-width="1.3" stroke-linecap="round"/>
<path d="M734.2 246.3l5-2.5v5z" fill="#f22a2a"/>
</svg>
</body></html>
